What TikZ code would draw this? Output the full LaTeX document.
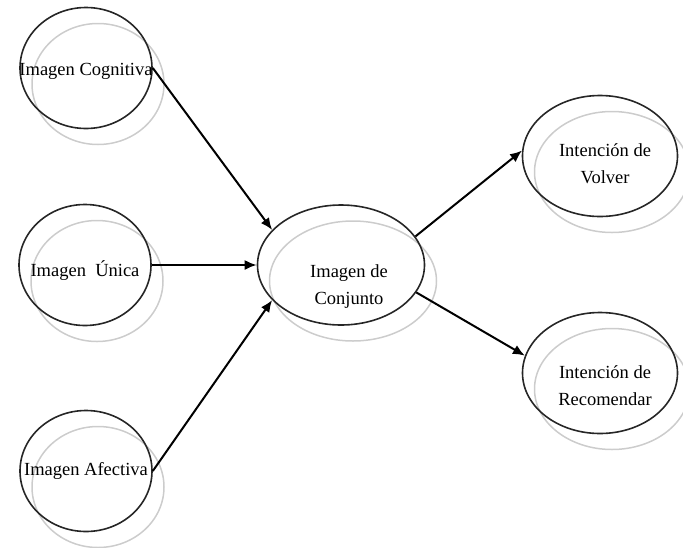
\documentclass[tikz,border=0pt]{standalone}
\usepackage{fontspec}
\setmainfont{Liberation Serif}
\usetikzlibrary{shapes.geometric, arrows.meta, shadows}
\tikzset{
    base/.style={draw=black!85, line width=1.6pt, ellipse, inner sep=0pt,
        general shadow={draw=black!20, line width=1.5pt, shadow xshift=12pt, shadow yshift=-16pt}},
    ovalo/.style={base, minimum width=132pt, minimum height=121pt},
    ovalo-centro/.style={base, minimum width=167pt, minimum height=120pt},
    ovalo-der/.style={base, minimum width=155pt, minimum height=121pt},
    every label/.style={font=\fontsize{18.5}{27}\selectfont, align=center, text=black},
    line/.style={draw=black, line width=2pt, -{Latex[length=12pt,width=10pt]}}
}

\begin{document}
\begin{tikzpicture}[x=1pt, y=-1pt]
    \useasboundingbox (0,0) rectangle (683,547);

    \node [ovalo, label={[yshift=-3pt]center:Imagen Cognitiva}] (Cog) at (86,68) {};
    \node [ovalo, label={[yshift=-6pt]center:Imagen\ \ Única}] (Uni) at (85,265) {};
    \node [ovalo, label={center:Imagen Afectiva}] (Afe) at (86,471) {};
    \node [ovalo-centro, label={[xshift=8pt, yshift=-22pt]center:Imagen de\\Conjunto}] (Conj) at (341,265) {};
    \node [ovalo-der, label={[xshift=5pt, yshift=-8pt]center:Intención de\\Volver}] (Volver) at (600,156) {};
    \node [ovalo-der, label={[xshift=5pt, yshift=-13pt]center:Intención de\\Recomendar}] (Recom) at (600,373) {};

    \draw [line] (Cog.east) -- (Conj.153);
    \draw [line] (Uni.east) -- (Conj.west);
    \draw [line] (Afe.east) -- (Conj.207);
    \draw [line] (Conj.21) -- (Volver.176);
    \draw [line] (Conj.-20) -- (Recom.167);
\end{tikzpicture}
\end{document}
